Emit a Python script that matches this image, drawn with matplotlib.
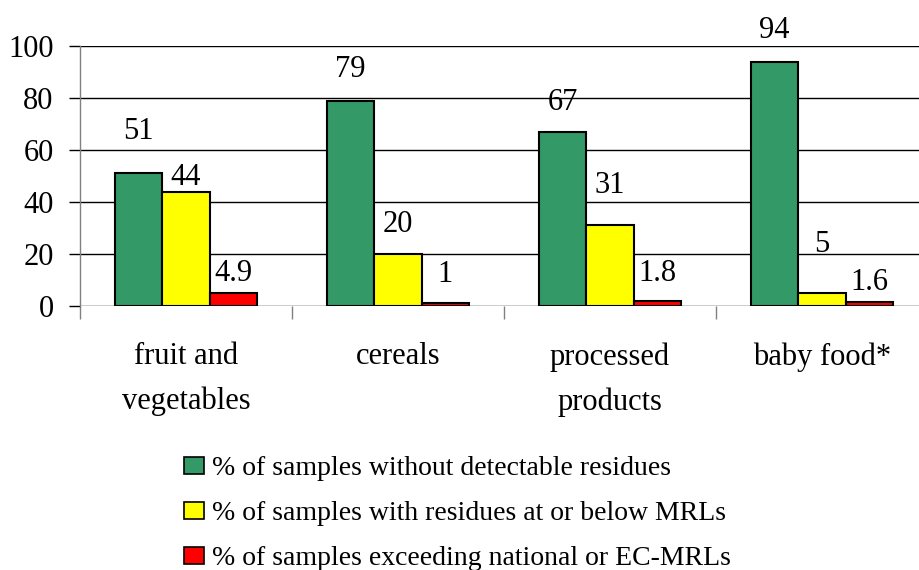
import matplotlib.pyplot as plt
from matplotlib.patches import Patch
import numpy as np

plt.rcParams['font.family'] = ['Liberation Serif', 'DejaVu Serif']

# Data
categories = ['fruit and\nvegetables', 'cereals', 'processed\nproducts', 'baby food*']
no_residues = [51, 79, 67, 94]
below_mrl = [44, 20, 31, 5]
exceeding = [4.9, 1, 1.8, 1.6]
value_labels = [['51', '79', '67', '94'], ['44', '20', '31', '5'], ['4.9', '1', '1.8', '1.6']]
series_names = ['% of samples without detectable residues',
                '% of samples with residues at or below MRLs',
                '% of samples exceeding national or EC-MRLs']
colors = ['#339966', '#ffff00', '#ff0000']

# label offsets above bar tops (pixels), per series
label_off = [[42, 31, 29, 31], [14, 29, 40, 48], [20, 29, 28, 19]]

fig = plt.figure(figsize=(9.2, 5.7), dpi=100)
ax = fig.add_axes([80 / 920, 1 - 306 / 570, 848 / 920, 260 / 570])

x = np.arange(len(categories))
w = 0.224
series = [no_residues, below_mrl, exceeding]
for i, vals in enumerate(series):
    pos = x + (i - 1) * w
    ax.bar(pos, vals, width=w, color=colors[i], edgecolor='black', linewidth=1.5, zorder=3)
    for j, v in enumerate(vals):
        ax.annotate(value_labels[i][j], (pos[j], v), xytext=(0, label_off[i][j] * 0.72),
                    textcoords='offset points', ha='center', va='center', fontsize=22, zorder=4)

ax.set_xlim(-0.5, len(categories) - 0.5)
ax.set_ylim(0, 100)
ax.set_yticks(range(0, 101, 20))
ax.tick_params(axis='y', labelsize=22, length=8, width=1, color='black', pad=11)
ax.yaxis.grid(True, color='black', linewidth=1, zorder=0)

ax.set_xticks(np.arange(-0.5, len(categories), 1))
ax.set_xticklabels([])
ax.tick_params(axis='x', which='major', length=9, width=1, color='#808080')
ax.set_xticks(x, minor=True)
ax.set_xticklabels(categories, minor=True, fontsize=22, linespacing=1.7)
ax.tick_params(axis='x', which='minor', length=0, pad=26)
for lab in ax.get_xticklabels(minor=True):
    lab.set_verticalalignment('top')

for s in ['top', 'right', 'bottom']:
    ax.spines[s].set_visible(False)
ax.spines['left'].set_color('#808080')
ax.spines['left'].set_linewidth(1)

handles = [Patch(facecolor=c, edgecolor='black', linewidth=1.2) for c in colors]
fig.legend(handles, series_names, loc='upper left', bbox_to_anchor=(165 / 920, 1 - 437 / 570),
           frameon=False, fontsize=20, handlelength=0.7, handleheight=0.6,
           handletextpad=0.3, labelspacing=0.72, borderpad=0.2)

fig.savefig('out.png', dpi=100)
